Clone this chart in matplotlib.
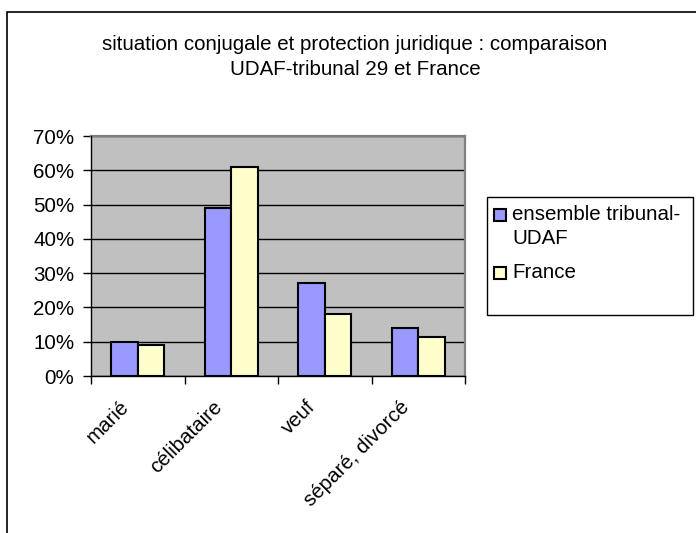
import numpy as np
import matplotlib
matplotlib.use("Agg")
from matplotlib import pyplot as plt
from matplotlib.patches import Rectangle
from matplotlib.ticker import PercentFormatter

categories = ["marié", "célibataire", "veuf", "séparé, divorcé"]
udaf_values = [10, 49, 27, 14]
france_values = [9, 61, 18, 11.5]
series_names = ["ensemble tribunal-\nUDAF", "France"]
series_colors = ["#9999FF", "#FFFFCC"]
title_lines = ["situation conjugale et protection juridique : comparaison",
               "UDAF-tribunal 29 et France"]

plt.rcParams['font.family'] = ['Liberation Sans', 'DejaVu Sans']
FS = 14.8

W, H = 696, 533
fig = plt.figure(figsize=(W / 100, H / 100), dpi=100)


def fx(px):
    return px / W


def fy(py):
    return 1 - py / H


# outer chart border (runs off the right and bottom edges)
fig.patches.append(Rectangle((fx(7), fy(560)), 1.2, fy(12) - fy(560),
                             transform=fig.transFigure, facecolor='none',
                             edgecolor='black', linewidth=1.2))

ax = fig.add_axes([fx(91), fy(376), fx(465) - fx(91), fy(136) - fy(376)])
ax.set_facecolor('#C0C0C0')

x = np.arange(len(categories))
bw = 0.2857
ax.bar(x - bw / 2, udaf_values, bw, color=series_colors[0], edgecolor='black',
       linewidth=1.5, zorder=3)
ax.bar(x + bw / 2, france_values, bw, color=series_colors[1], edgecolor='black',
       linewidth=1.5, zorder=3)

ax.set_xlim(-0.5, len(categories) - 0.5)
ax.set_ylim(0, 70)
ax.set_yticks(range(0, 71, 10))
ax.yaxis.set_major_formatter(PercentFormatter(decimals=0))
ax.grid(axis='y', color='black', linewidth=1, zorder=1)

for s in ['top', 'right']:
    ax.spines[s].set_color('#808080')
    ax.spines[s].set_linewidth(1.6)
for s in ['left', 'bottom']:
    ax.spines[s].set_color('black')
    ax.spines[s].set_linewidth(1)
    ax.spines[s].set_zorder(4)

ax.tick_params(axis='y', direction='out', length=6, width=1, labelsize=FS, pad=6)
ax.set_xticks(np.arange(len(categories) + 1) - 0.5)
ax.set_xticklabels([])
ax.tick_params(axis='x', direction='out', length=6, width=1)

for i, c in enumerate(categories):
    ax.annotate(c, xy=(i, 0), xycoords=('data', 'axes fraction'),
                xytext=(-12, -28), textcoords='offset pixels',
                rotation=45, rotation_mode='anchor', ha='right', va='center',
                fontsize=FS)

for line, base in zip(title_lines, [50, 75]):
    fig.text(fx(355), fy(base), line, ha='center', va='baseline', fontsize=FS)

# legend box
fig.patches.append(Rectangle((fx(487), fy(315)), fx(693) - fx(487), fy(197) - fy(315),
                             transform=fig.transFigure, facecolor='white',
                             edgecolor='black', linewidth=1))
for name, col, base in zip(series_names, series_colors, [222, 280]):
    fig.patches.append(Rectangle((fx(494), fy(base - 1)), fx(12), fy(0) - fy(12),
                                 transform=fig.transFigure, facecolor=col,
                                 edgecolor='black', linewidth=1.5))
    fig.text(fx(512), fy(base - 17), name, ha='left', va='top', fontsize=FS,
             linespacing=1.3)

fig.savefig("out.png", dpi=100)
